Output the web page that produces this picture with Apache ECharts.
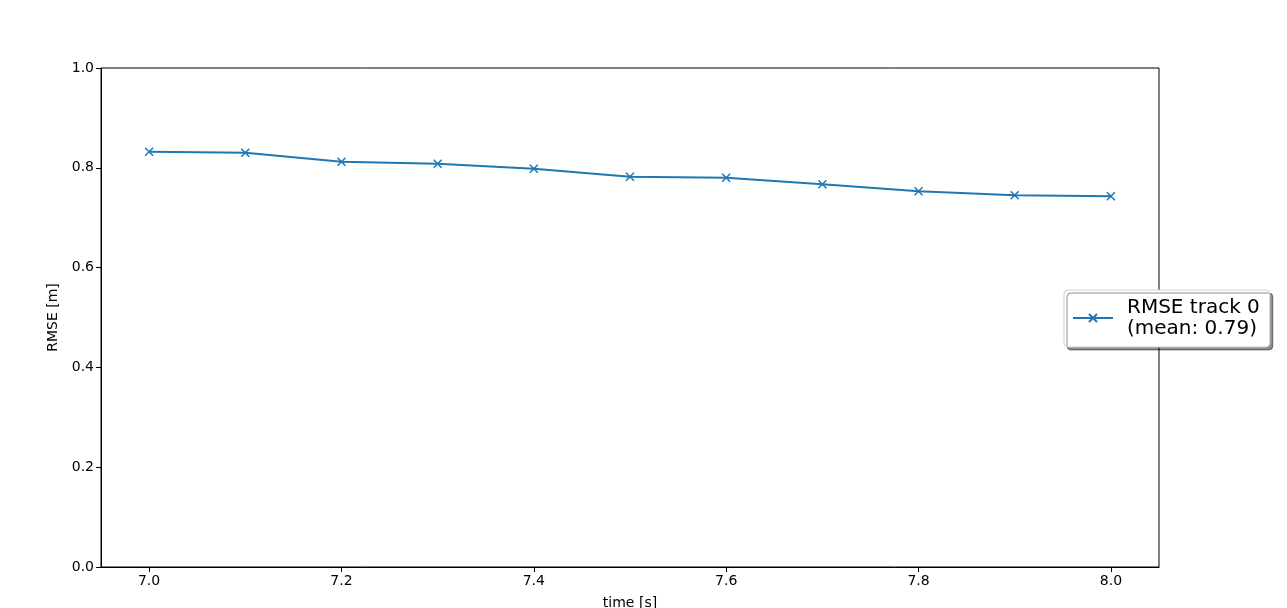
<!DOCTYPE html>
<html>
<head>
<meta charset="utf-8">
<script src="https://cdn.jsdelivr.net/npm/echarts@6/dist/echarts.min.js"></script>
<style>html,body{margin:0;padding:0;background:#fff}#c{width:1287px;height:608px}</style>
</head>
<body>
<div id="c"></div>
<script>
const times = [7.0, 7.1, 7.2, 7.3, 7.4, 7.5, 7.6, 7.7, 7.8, 7.9, 8.0];
const rmse = [0.832, 0.830, 0.812, 0.808, 0.798, 0.782, 0.780, 0.767, 0.753, 0.745, 0.743];
const xTicks = [7.0, 7.2, 7.4, 7.6, 7.8, 8.0];
const seriesName = 'RMSE track 0';
const meanLabel = '(mean: 0.79)';

const font = 'DejaVu Sans';
const chart = echarts.init(document.getElementById('c'), null, {renderer: 'canvas'});
const xMark = 'path://M0,0L10,10M10,0L0,10';
chart.setOption({
  animation: false,
  textStyle: {fontFamily: font},
  grid: {left: 101, right: 128, top: 68, bottom: 41, show: true, borderColor: '#000', borderWidth: 1,
         backgroundColor: 'transparent', containLabel: false, outerBoundsMode: 'none'},
  xAxis: {
    type: 'value', min: 6.95, max: 8.05,
    name: 'time [s]', nameLocation: 'middle', nameGap: 29,
    nameTextStyle: {fontFamily: font, fontSize: 14, color: '#000'},
    axisLine: {show: true, onZero: false, lineStyle: {color: '#000', width: 1}},
    axisTick: {show: true, length: 5, inside: false, customValues: xTicks, lineStyle: {color: '#000'}},
    axisLabel: {customValues: xTicks, fontFamily: font, fontSize: 14, color: '#000', margin: 7, formatter: v => v.toFixed(1)},
    splitLine: {show: false}
  },
  yAxis: {
    type: 'value', min: 0, max: 1, interval: 0.2,
    name: 'RMSE [m]', nameLocation: 'middle', nameGap: 39, nameRotate: 90,
    nameTextStyle: {fontFamily: font, fontSize: 14, color: '#000'},
    axisLine: {show: true, onZero: false, lineStyle: {color: '#000', width: 1}},
    axisTick: {show: true, length: 5, lineStyle: {color: '#000'}},
    axisLabel: {fontFamily: font, fontSize: 14, color: '#000', margin: 7, formatter: v => v.toFixed(1)},
    splitLine: {show: false}
  },
  legend: {
    left: 1064, top: 290,
    orient: 'vertical',
    padding: [7, 10, 8, 8],
    itemWidth: 40, itemHeight: 10, itemGap: 0,
    backgroundColor: '#fff', borderColor: '#d0d0d0', borderWidth: 1, borderRadius: 4,
    shadowColor: 'rgba(0,0,0,0.45)', shadowOffsetX: 3, shadowOffsetY: 3, shadowBlur: 0,
    textStyle: {fontFamily: font, fontSize: 20, color: '#000', lineHeight: 21, padding: [0, 0, 0, 9]},
    formatter: n => n + '\n' + meanLabel,
    data: [seriesName]
  },
  series: [{
    name: seriesName, type: 'line',
    data: times.map((t, i) => [t, rmse[i]]),
    symbol: xMark, symbolSize: 8,
    lineStyle: {color: '#1f77b4', width: 2},
    itemStyle: {color: '#1f77b4', borderColor: '#1f77b4', borderWidth: 1.5},
    emphasis: {disabled: true}
  }]
});
</script>
</body>
</html>
